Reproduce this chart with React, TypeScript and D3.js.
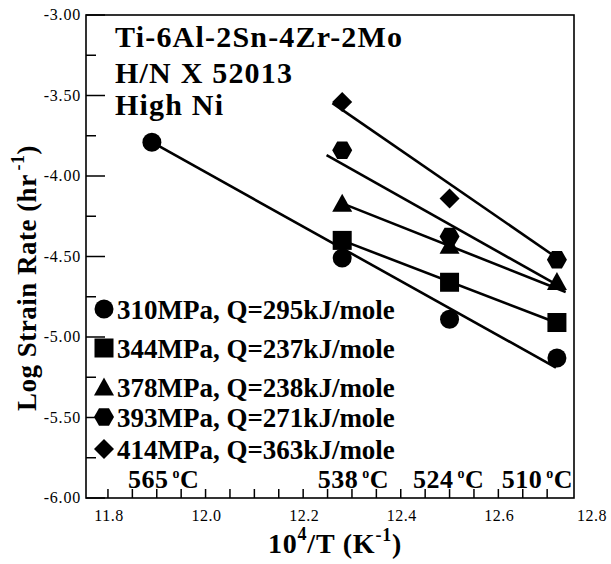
import React from 'react';
import * as d3 from 'd3';

// stress levels (legend text) and marker for each series
const seriesLabels = [
  '310MPa, Q=295kJ/mole',
  '344MPa, Q=237kJ/mole',
  '378MPa, Q=238kJ/mole',
  '393MPa, Q=271kJ/mole',
  '414MPa, Q=363kJ/mole',
];
const seriesMarkers = ['circle', 'square', 'triangle', 'hexagon', 'diamond'];

// measured points, 10^4/T vs log strain rate
const pointsX = [
  [11.89, 12.28, 12.5, 12.72],
  [12.28, 12.5, 12.72],
  [12.28, 12.5, 12.72],
  [12.28, 12.5, 12.72],
  [12.28, 12.5],
];
const pointsY = [
  [-3.79, -4.51, -4.89, -5.13],
  [-4.4, -4.66, -4.91],
  [-4.17, -4.43, -4.655],
  [-3.84, -4.375, -4.52],
  [-3.54, -4.14],
];

// fitted lines as drawn: [x0, y0, x1, y1]
const fitLines = [
  [11.89, -3.79, 12.718, -5.19],
  [12.28, -4.4, 12.722, -4.915],
  [12.28, -4.17, 12.738, -4.72],
  [12.248, -3.87, 12.734, -4.7],
  [12.26, -3.547, 12.716, -4.5],
];

// temperature annotations along the bottom
const tempLabels = ['565', '538', '524', '510'];
const tempLabelX = [11.841, 12.23, 12.425, 12.607];

const xTickLabels = [11.8, 12.0, 12.2, 12.4, 12.6, 12.8];
const yTickLabels = [-3.0, -3.5, -4.0, -4.5, -5.0, -5.5, -6.0];

const titleLines = ['Ti-6Al-2Sn-4Zr-2Mo', 'H/N X 52013', 'High Ni'];

const W = 611;
const H = 564;
const FONT = "'Liberation Serif', 'Times New Roman', serif";
const legendRowY = [309, 348, 387, 417, 449];

const x = d3.scaleLinear().domain([11.755, 12.755]).range([86, 574]);
const y = d3.scaleLinear().domain([-6, -3]).range([498, 15]);

const marker = (kind: string, cx: number, cy: number, key: string) => {
  if (kind === 'circle') return <circle key={key} cx={cx} cy={cy} r={9.5} fill="#000" />;
  if (kind === 'square') return <rect key={key} x={cx - 9.5} y={cy - 9.5} width={19} height={19} fill="#000" />;
  let pts: [number, number][] = [];
  if (kind === 'triangle') pts = [[cx, cy - 9.5], [cx + 10, cy + 8.5], [cx - 10, cy + 8.5]];
  if (kind === 'diamond') pts = [[cx, cy - 10], [cx + 10, cy], [cx, cy + 10], [cx - 10, cy]];
  if (kind === 'hexagon')
    pts = d3.range(6).map(i => [cx + 10 * Math.cos((i * Math.PI) / 3), cy + 10 * Math.sin((i * Math.PI) / 3)] as [number, number]);
  return <path key={key} d={'M' + pts.map(p => p.join(',')).join('L') + 'Z'} fill="#000" />;
};

const App = () => {
  const [x0, x1] = x.range();
  const [yb, yt] = y.range();
  const bottomTicks = d3.range(0, 19).map(i => 11.8 + i * 0.05);
  const leftTicks = d3.range(0, 13).map(i => -6 + i * 0.25);

  return (
    <svg width={W} height={H} style={{ position: 'absolute', left: 0, top: 0, background: '#fff' }} fontFamily={FONT}>
      {/* frame */}
      <rect x={x0} y={yt} width={x1 - x0} height={yb - yt} fill="none" stroke="#000" strokeWidth={1.6} />

      {/* ticks */}
      {bottomTicks.map((t, i) => (
        <line key={'bt' + i} x1={x(t)} x2={x(t)} y1={yb} y2={yb - 9} stroke="#000" strokeWidth={1.5} />
      ))}
      {leftTicks.map((t, i) => (
        <line key={'lt' + i} x1={x0} x2={x0 + (i % 2 === 0 ? 19 : 10)} y1={y(t)} y2={y(t)} stroke="#000" strokeWidth={1.5} />
      ))}

      {/* tick labels */}
      {yTickLabels.map(t => (
        <text key={'yl' + t} x={81} y={y(t) + 5} textAnchor="end" fontSize={16} letterSpacing={0.8}>
          {t.toFixed(2)}
        </text>
      ))}
      {xTickLabels.map(t => (
        <text key={'xl' + t} x={Math.min(x(t) + 1, 592)} y={521} textAnchor="middle" fontSize={16} letterSpacing={0.5}>
          {t.toFixed(1)}
        </text>
      ))}

      {/* axis titles */}
      <text x={335} y={553} textAnchor="middle" fontSize={28} fontWeight="bold" letterSpacing={0.8}>
        10<tspan dy={-13} fontSize={18}>4</tspan>
        <tspan dy={13}>/T (K</tspan>
        <tspan dy={-12} fontSize={18}>-1</tspan>
        <tspan dy={12}>)</tspan>
      </text>
      <text transform="translate(36,278) rotate(-90)" textAnchor="middle" fontSize={27} fontWeight="bold" letterSpacing={0.5}>
        Log Strain Rate (hr
        <tspan dx={4} dy={-12} fontSize={18}>-1</tspan>
        <tspan dy={12}>)</tspan>
      </text>

      {/* title block */}
      {titleLines.map((t, i) => (
        <text key={'tt' + i} x={115} y={[47, 83, 115][i]} fontSize={30} fontWeight="bold" letterSpacing={1.2}>
          {t}
        </text>
      ))}

      {/* fitted lines */}
      {fitLines.map((f, i) => (
        <line key={'fl' + i} x1={x(f[0])} y1={y(f[1])} x2={x(f[2])} y2={y(f[3])} stroke="#000" strokeWidth={2.6} />
      ))}

      {/* data markers */}
      {pointsX.map((xs, s) => xs.map((v, j) => marker(seriesMarkers[s], x(v), y(pointsY[s][j]), `m${s}-${j}`)))}

      {/* legend */}
      {seriesLabels.map((lab, i) => (
        <g key={'lg' + i}>
          {marker(seriesMarkers[i], 104, legendRowY[i], 'lm' + i)}
          <text x={117} y={legendRowY[i] + 10} fontSize={27} fontWeight="bold">
            {lab}
          </text>
        </g>
      ))}

      {/* temperature labels */}
      {tempLabels.map((t, i) => (
        <text key={'tl' + i} x={x(tempLabelX[i])} y={488} fontSize={26} fontWeight="bold" letterSpacing={0.5}>
          {t}
          <tspan dx={4} dy={-10} fontSize={14}>o</tspan>
          <tspan dy={10}>C</tspan>
        </text>
      ))}
    </svg>
  );
};

export default App;
